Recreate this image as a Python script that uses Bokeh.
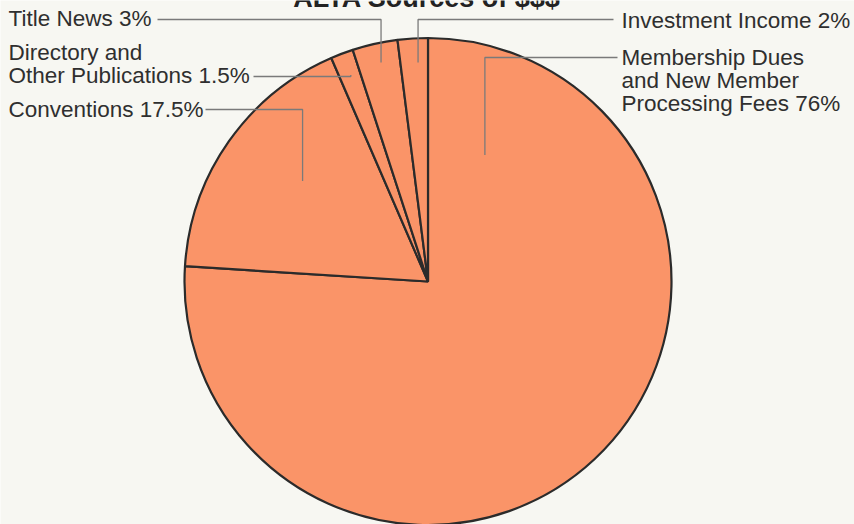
import numpy as np
from bokeh.plotting import figure
from bokeh.models import Range1d, ColumnDataSource
from bokeh.embed import file_html
from bokeh.resources import INLINE
from bokeh.core.properties import value

# ---- data ----
categories = ["Membership Dues and New Member Processing Fees", "Conventions",
              "Directory and Other Publications", "Title News", "Investment Income"]
shares = [76, 17.5, 1.5, 3, 2]
label_lines = [["Membership Dues", "and New Member", "Processing Fees 76%"],
               ["Conventions 17.5%"],
               ["Directory and", "Other Publications 1.5%"],
               ["Title News 3%"],
               ["Investment Income 2%"]]
title_text = "ALTA Sources of $$$"

# ---- layout (pixel space, y measured from top) ----
W, H = 854, 524
CX, CY_TOP, R = 427.5, 281, 243.5
CY = H - CY_TOP
anchor_deg = [24.2, 308.7, 339.5, 347.9, 357.4]   # clockwise from 12 o'clock
anchor_frac = [0.57, 0.66, 0.905, 0.92, 0.90]
elbow_y = [57, 109, 76, 19, 19]
line_end_x = [617, 205, 253, 157, 613]
text_x = [621, 8, 8, 8, 621]
text_y = [[57, 80, 103], [109], [52, 75], [18], [20]]

FILL = "#FA9468"
EDGE = "#2b2b2b"
BG = "#F7F7F2"
TXT = "#2f2f2f"
LEAD = "#7a7a7a"
FONT = "Liberation Sans"

p = figure(width=W, height=H, output_backend="svg", toolbar_location=None,
           x_range=Range1d(0, W), y_range=Range1d(0, H), min_border=0)
p.axis.visible = False
p.grid.visible = False
p.outline_line_color = None
p.background_fill_color = BG
p.border_fill_color = BG

# wedges, clockwise from top
cum = np.cumsum([0] + shares) / 100.0 * 2 * np.pi
src = ColumnDataSource(dict(
    cat=categories,
    start=np.pi / 2 - cum[1:],
    end=np.pi / 2 - cum[:-1],
))
p.wedge(x=CX, y=CY, radius=R, start_angle="start", end_angle="end",
        source=src, fill_color=FILL, line_color=EDGE, line_width=2.2)

# leader lines
xs, ys = [], []
for i in range(len(categories)):
    a = np.deg2rad(anchor_deg[i])
    ax = CX + anchor_frac[i] * R * np.sin(a)
    ay = CY + anchor_frac[i] * R * np.cos(a)
    ey = H - elbow_y[i]
    xs.append([line_end_x[i], ax, ax])
    ys.append([ey, ey, ay])
p.multi_line(xs=xs, ys=ys, line_color=LEAD, line_width=1.3)

# labels
tx, ty, tt = [], [], []
for i, lines in enumerate(label_lines):
    for ln, yy in zip(lines, text_y[i]):
        tx.append(text_x[i]); ty.append(H - yy); tt.append(ln)
p.text(x=tx, y=ty, text=tt, text_font=value(FONT), text_font_size="22.5px",
       text_color=TXT, text_align="left", text_baseline="middle")

# title (cut off at the top, as in the reference)
p.text(x=[426.5], y=[H + 2.5], text=[title_text], text_font=value(FONT),
       text_font_size="27px", text_font_style="bold", text_color="#222222",
       text_align="center", text_baseline="alphabetic")

open("out.html", "w").write(file_html(p, INLINE))
